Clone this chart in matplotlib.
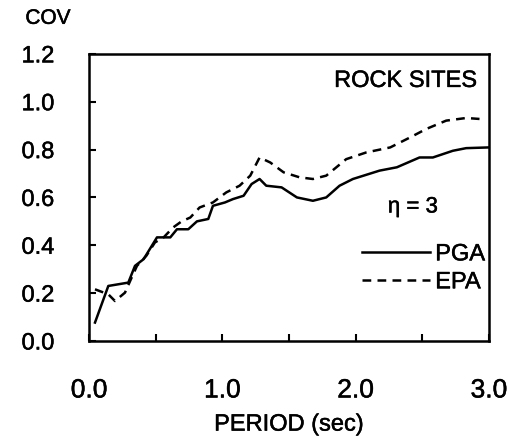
import matplotlib.pyplot as plt
import matplotlib.patheffects as pe
from matplotlib.ticker import FixedLocator

plt.rcParams['font.family'] = ['Liberation Sans', 'DejaVu Sans']

# PGA (solid)
pga_t = [0.045, 0.145, 0.295, 0.345, 0.41, 0.51, 0.61, 0.66, 0.745, 0.81, 0.895,
         0.93, 1.02, 1.08, 1.16, 1.22, 1.28, 1.33, 1.445, 1.56, 1.68, 1.78, 1.88,
         1.98, 2.18, 2.31, 2.48, 2.58, 2.73, 2.83, 3.0]
pga_cov = [0.077, 0.23, 0.244, 0.314, 0.342, 0.433, 0.433, 0.467, 0.467, 0.50, 0.51,
           0.565, 0.579, 0.593, 0.607, 0.656, 0.677, 0.649, 0.642, 0.60, 0.586, 0.60, 0.649,
           0.677, 0.712, 0.726, 0.767, 0.767, 0.795, 0.806, 0.809]

# EPA (dashed)
epa_t = [0.045, 0.145, 0.195, 0.27, 0.32, 0.36, 0.43, 0.495, 0.56, 0.63, 0.695,
         0.76, 0.83, 0.93, 1.03, 1.13, 1.21, 1.28, 1.36, 1.46, 1.58, 1.68, 1.78,
         1.93, 2.08, 2.26, 2.41, 2.53, 2.68, 2.83, 2.93]
epa_cov = [0.216, 0.195, 0.167, 0.202, 0.265, 0.314, 0.356, 0.412, 0.433, 0.474, 0.50,
           0.516, 0.558, 0.579, 0.621, 0.649, 0.691, 0.767, 0.746, 0.705, 0.684, 0.677, 0.691,
           0.760, 0.788, 0.809, 0.851, 0.886, 0.921, 0.932, 0.928]

xticks = [0.0, 1.0, 2.0, 3.0]
xminor = [0.5, 1.5, 2.5]
yticks = [0.0, 0.2, 0.4, 0.6, 0.8, 1.0, 1.2]

# scanned text looks a little heavier than a regular weight
heavier = [pe.withStroke(linewidth=0.35, foreground='black')]

fig = plt.figure(figsize=(5.10, 4.39), dpi=100)
ax = fig.add_axes([0.1745, 0.221, 0.784, 0.654])

ax.plot(pga_t, pga_cov, color='black', lw=1.8, label='PGA')
ax.plot(epa_t, epa_cov, color='black', lw=1.8, ls=(0, (3.5, 2.5)), label='EPA')

ax.set_xlim(0, 3)
ax.set_ylim(0, 1.2)
ax.xaxis.set_major_locator(FixedLocator(xticks))
ax.xaxis.set_minor_locator(FixedLocator(xminor))
ax.set_xticklabels(['%.1f' % v for v in xticks])
ax.yaxis.set_major_locator(FixedLocator(yticks))
ax.set_yticklabels(['%.1f' % v for v in yticks])
ax.tick_params(axis='x', which='both', direction='in', length=5, width=1.5,
               labelsize=19, pad=27)
ax.tick_params(axis='y', which='both', direction='in', length=5, width=1.5,
               labelsize=17, pad=25)
for s in ax.spines.values():
    s.set_linewidth(1.8)

ax.set_xlabel('PERIOD (sec)', fontsize=17, labelpad=8)
fig.text(0.094, 0.956, 'COV', fontsize=15, ha='center', va='center')

ax.text(2.91, 1.087, 'ROCK SITES', fontsize=17, ha='right', va='center')
ax.text(2.43, 0.56, 'η = 3', fontsize=16, ha='center', va='center')

leg = ax.legend(loc='upper right', bbox_to_anchor=(0.99, 0.34), frameon=False,
                fontsize=17, handlelength=2.9, handletextpad=0.2, borderpad=0,
                borderaxespad=0, labelspacing=0.25)

for t in fig.findobj(match=lambda a: hasattr(a, 'get_text')):
    t.set_path_effects(heavier)

fig.savefig('out.png', dpi=100)
